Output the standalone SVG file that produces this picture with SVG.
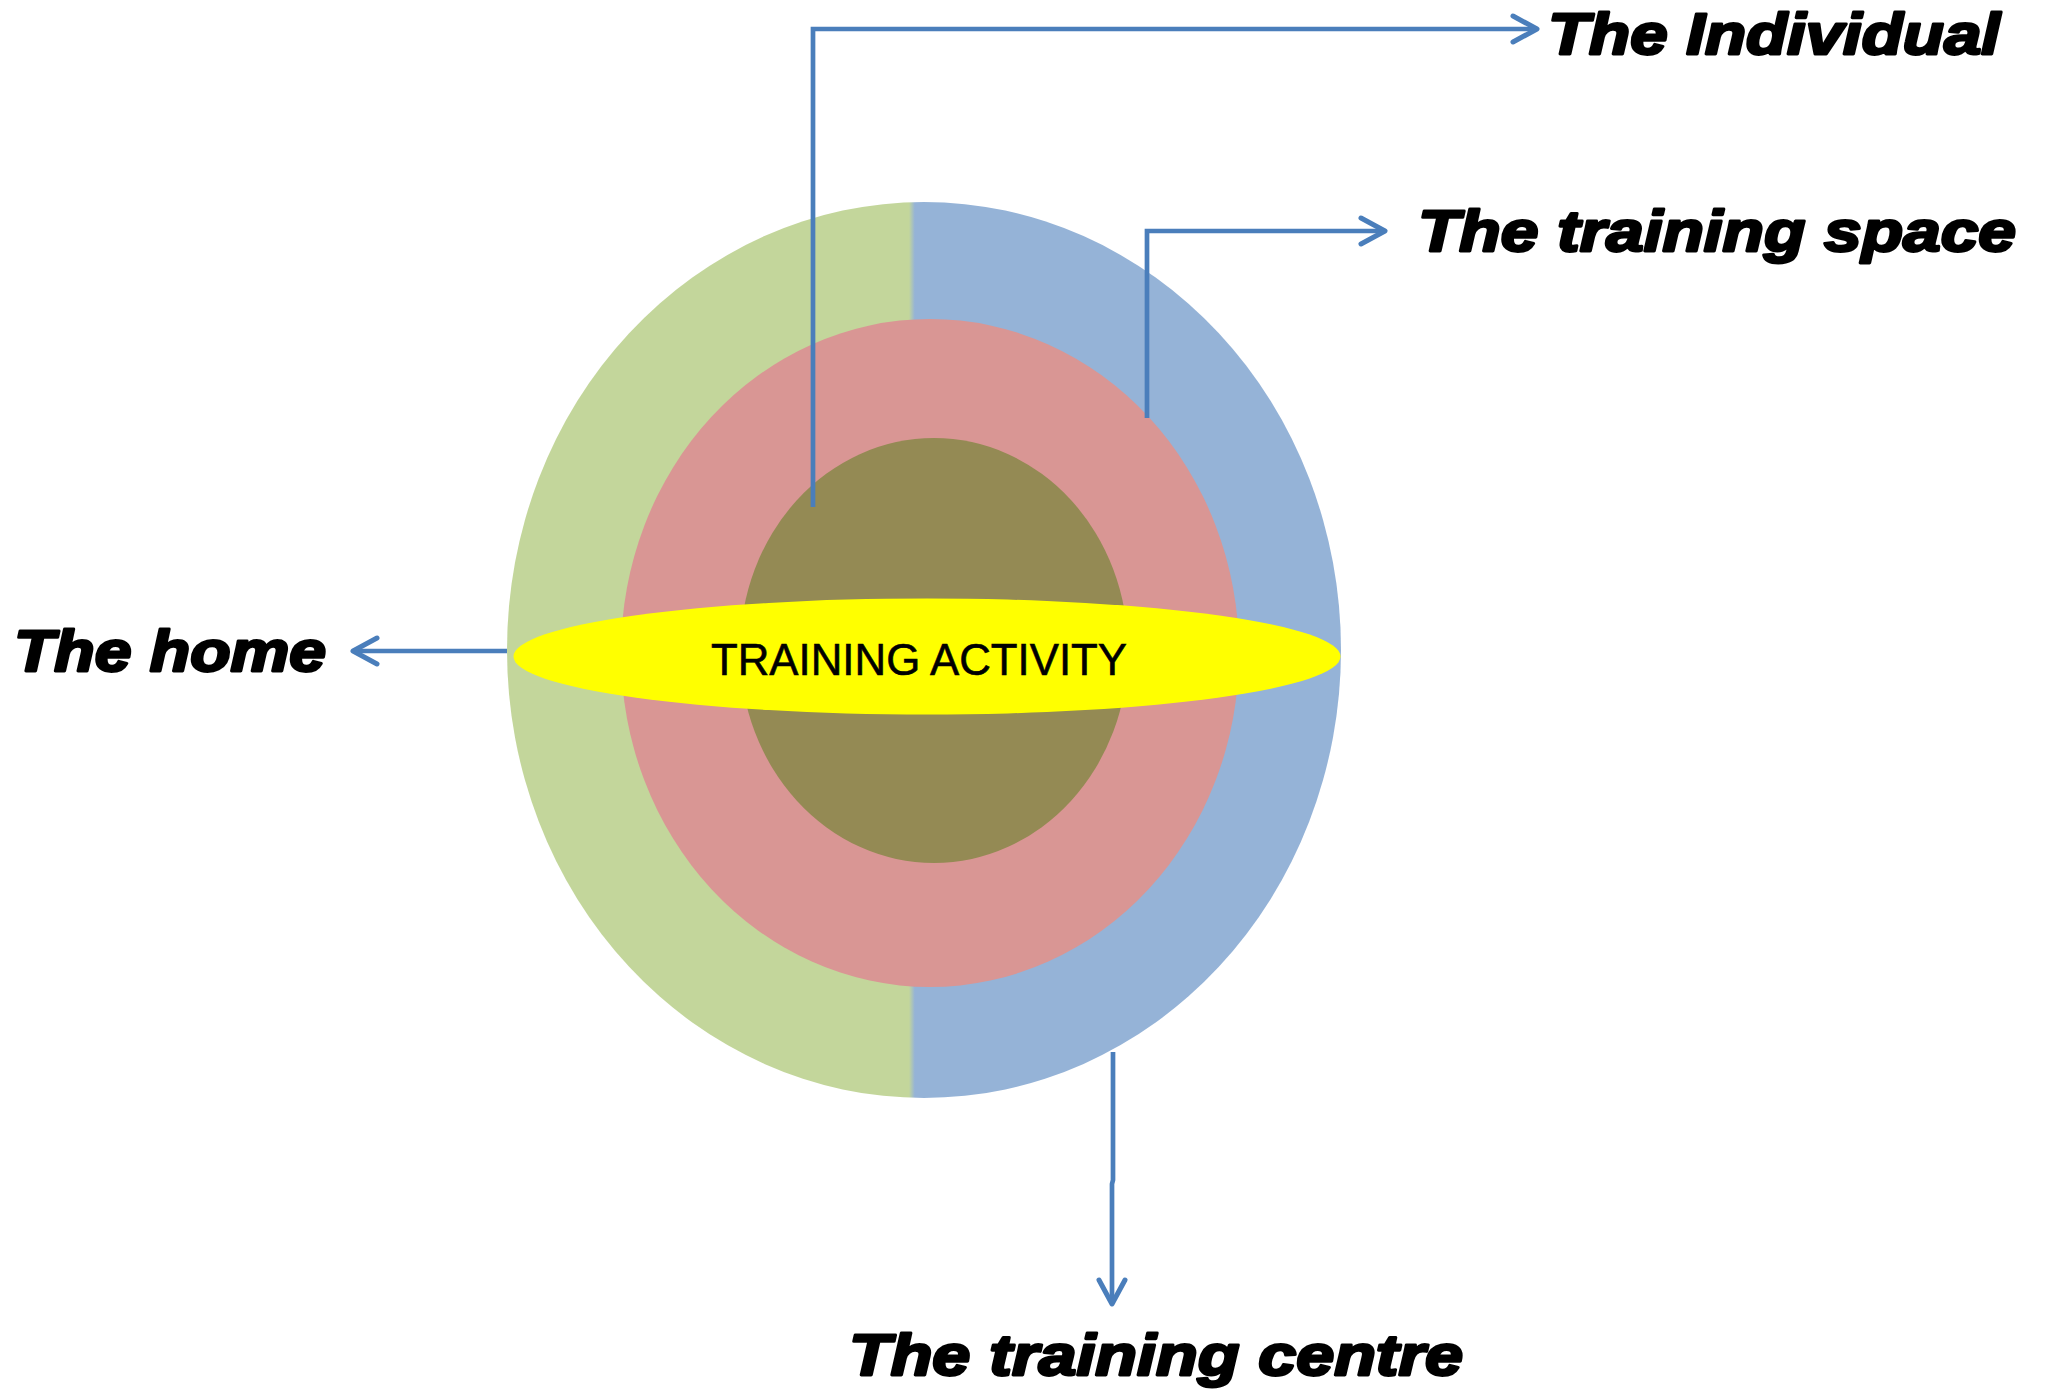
<svg xmlns="http://www.w3.org/2000/svg" width="2047" height="1389" viewBox="0 0 2047 1389">
<style>
.lbl{font-family:"Liberation Sans",Arial,sans-serif;font-weight:bold;font-style:italic;font-size:58px;fill:#000;stroke:#000;stroke-width:2.8px;stroke-linejoin:round}
.conn{fill:none;stroke:#4A7EBB;stroke-width:4.7}
.core{font-family:"Liberation Sans",Arial,sans-serif;font-size:45px;fill:#000;stroke:#000;stroke-width:0.6px}
</style>
<defs>
<linearGradient id="outerFill" gradientUnits="userSpaceOnUse" x1="507" y1="0" x2="1341" y2="0">
<stop offset="0" stop-color="#C3D69B"/>
<stop offset="0.4820" stop-color="#C3D69B"/>
<stop offset="0.4890" stop-color="#95B3D7"/>
<stop offset="1" stop-color="#95B3D7"/>
</linearGradient>
<marker id="arr" markerUnits="userSpaceOnUse" markerWidth="44" markerHeight="44" viewBox="-32 -22 44 44" refX="0" refY="0" orient="auto">
<path d="M-24,-13 L0,0 L-24,13" fill="none" stroke="#4A7EBB" stroke-width="5" stroke-linecap="round" stroke-linejoin="round"/>
</marker>
</defs>
<g id="node-training-centre-ring">
<ellipse cx="924" cy="650" rx="417" ry="448" fill="url(#outerFill)"/>
</g>
<g id="node-training-space-ring">
<ellipse cx="930" cy="653" rx="309" ry="334" fill="#D99694"/>
</g>
<g id="node-individual-core">
<ellipse cx="934" cy="650.5" rx="194" ry="212.5" fill="#948A54"/>
</g>
<g id="node-training-activity">
<ellipse cx="927" cy="656.5" rx="413.5" ry="58" fill="#FFFF00"/>
<text class="core" x="711" y="675" textLength="416" lengthAdjust="spacingAndGlyphs">TRAINING ACTIVITY</text>
</g>
<g id="connectors">
<path class="conn" d="M813,507 V29 H1537" marker-end="url(#arr)"/>
<path class="conn" d="M1147,418 V231 H1385" marker-end="url(#arr)"/>
<path class="conn" d="M507,651 H353" marker-end="url(#arr)"/>
<path class="conn" d="M1113,1052 V1180 L1112,1184 V1304" marker-end="url(#arr)"/>
</g>
<g id="node-label-individual">
<text class="lbl" x="1548" y="53.5" textLength="452" lengthAdjust="spacingAndGlyphs">The Individual</text>
</g>
<g id="node-label-training-space">
<text class="lbl" x="1418" y="251" textLength="598" lengthAdjust="spacingAndGlyphs">The training space</text>
</g>
<g id="node-label-home">
<text class="lbl" x="14" y="671" textLength="312" lengthAdjust="spacingAndGlyphs">The home</text>
</g>
<g id="node-label-training-centre">
<text class="lbl" x="849" y="1375" textLength="614" lengthAdjust="spacingAndGlyphs">The training centre</text>
</g>
</svg>
